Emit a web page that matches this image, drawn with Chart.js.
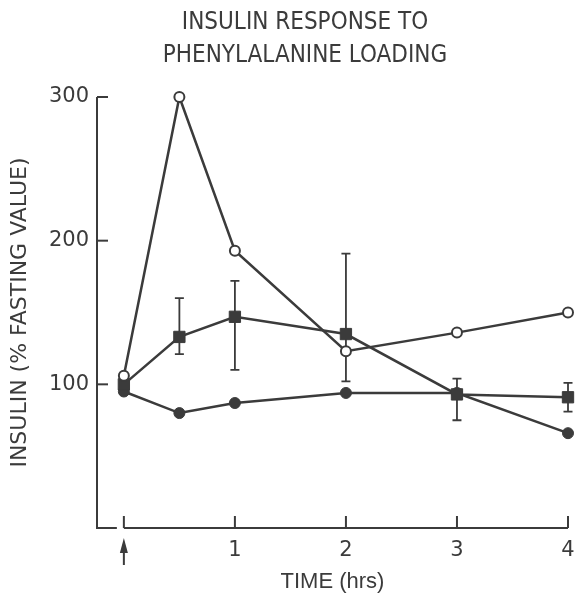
<!DOCTYPE html>
<html>
<head>
<meta charset="utf-8">
<script src="https://cdn.jsdelivr.net/npm/chart.js@4.4.0/dist/chart.umd.min.js"></script>
<style>
  html, body { margin: 0; padding: 0; background: #fff; }
  #wrap { width: 577px; height: 593px; }
</style>
</head>
<body>
<div id="wrap"><canvas id="chart"></canvas></div>
<script>
// values
const titleLines = ['INSULIN RESPONSE TO', 'PHENYLALANINE LOADING'];
const times = [0, 0.5, 1, 2, 3, 4];
const openCircle = [106, 300, 193, 123, 136, 150];
const squareMean = [100, 133, 147, 135, 93, 91];
const squareHigh = [null, 160, 172, 191, 104, 101];
const squareLow = [null, 121, 110, 102, 75, 81];
const filledCircle = [95, 80, 87, 94, 94, 66];
const xTicks = [0, 1, 2, 3, 4];
const yTicks = [100, 200, 300];

const ink = '#3b3b3b';

const toPoints = arr => times.map((t, i) => ({ x: t, y: arr[i] }));

// axes, tick marks, error bars, arrow and title
const figurePlugin = {
  id: 'figure',
  beforeDatasetsDraw(chart) {
    const { ctx, chartArea, scales: { x, y } } = chart;
    ctx.save();
    ctx.strokeStyle = ink;
    ctx.fillStyle = ink;
    ctx.lineWidth = 2;
    ctx.lineCap = 'butt';

    // y axis + left stub of x axis
    const x0 = x.getPixelForValue(0);
    ctx.beginPath();
    ctx.moveTo(chartArea.left, y.getPixelForValue(300));
    ctx.lineTo(chartArea.left, chartArea.bottom);
    ctx.lineTo(x0 - 7, chartArea.bottom);
    ctx.stroke();

    // x axis from 0 to 4
    ctx.beginPath();
    ctx.moveTo(x0, chartArea.bottom);
    ctx.lineTo(x.getPixelForValue(4), chartArea.bottom);
    ctx.stroke();

    // inward ticks
    xTicks.forEach(v => {
      const px = x.getPixelForValue(v);
      ctx.beginPath();
      ctx.moveTo(px, chartArea.bottom);
      ctx.lineTo(px, chartArea.bottom - 12);
      ctx.stroke();
    });
    yTicks.forEach(v => {
      const py = y.getPixelForValue(v);
      ctx.beginPath();
      ctx.moveTo(chartArea.left, py);
      ctx.lineTo(chartArea.left + 11, py);
      ctx.stroke();
    });

    // error bars
    ctx.lineWidth = 1.8;
    times.forEach((t, i) => {
      if (squareHigh[i] == null) return;
      const px = x.getPixelForValue(t);
      const hi = y.getPixelForValue(squareHigh[i]);
      const lo = y.getPixelForValue(squareLow[i]);
      ctx.beginPath();
      ctx.moveTo(px, hi); ctx.lineTo(px, lo);
      ctx.moveTo(px - 4.5, hi); ctx.lineTo(px + 4.5, hi);
      ctx.moveTo(px - 4.5, lo); ctx.lineTo(px + 4.5, lo);
      ctx.stroke();
    });

    // arrow under time 0
    ctx.lineWidth = 2;
    ctx.beginPath();
    ctx.moveTo(x0, chartArea.bottom + 20);
    ctx.lineTo(x0, chartArea.bottom + 37);
    ctx.stroke();
    ctx.beginPath();
    ctx.moveTo(x0, chartArea.bottom + 10);
    ctx.lineTo(x0 - 4, chartArea.bottom + 25);
    ctx.lineTo(x0 + 4, chartArea.bottom + 25);
    ctx.closePath();
    ctx.fill();

    // title
    ctx.font = '24px "DejaVu Sans Condensed", "Liberation Sans Narrow", "Liberation Sans", sans-serif';
    ctx.textAlign = 'center';
    ctx.textBaseline = 'middle';
    ctx.fillText(titleLines[0], 305, 23);
    ctx.fillText(titleLines[1], 305, 56);
    ctx.restore();
  }
};

new Chart(document.getElementById('chart'), {
  type: 'scatter',
  data: {
    datasets: [
      {
        label: 'open circles',
        data: toPoints(openCircle),
        showLine: true,
        clip: false,
        borderColor: ink,
        borderWidth: 2.5,
        pointStyle: 'circle',
        pointRadius: 5,
        pointBorderWidth: 2,
        pointBackgroundColor: '#fff',
        pointBorderColor: ink,
      },
      {
        label: 'squares',
        data: toPoints(squareMean),
        showLine: true,
        clip: false,
        borderColor: ink,
        borderWidth: 2.5,
        pointStyle: 'rect',
        pointRadius: 8,
        pointBorderWidth: 1,
        pointBackgroundColor: ink,
        pointBorderColor: ink,
      },
      {
        label: 'filled circles',
        data: toPoints(filledCircle),
        showLine: true,
        clip: false,
        borderColor: ink,
        borderWidth: 2.5,
        pointStyle: 'circle',
        pointRadius: 5.5,
        pointBorderWidth: 1,
        pointBackgroundColor: ink,
        pointBorderColor: ink,
      },
    ],
  },
  options: {
    responsive: true,
    maintainAspectRatio: false,
    animation: false,
    layout: { padding: { top: 97, right: 7, left: 0, bottom: 0 } },
    plugins: {
      legend: { display: false },
      tooltip: { enabled: false },
    },
    scales: {
      x: {
        type: 'linear',
        min: -0.242,
        max: 4,
        afterBuildTicks: scale => { scale.ticks = xTicks.map(v => ({ value: v })); },
        afterFit: scale => {
          scale.height = 65;
          scale.paddingLeft = 0;
          scale.paddingRight = 0;
        },
        grid: { display: false, drawTicks: false },
        border: { display: false },
        ticks: {
          padding: 10,
          color: ink,
          font: { family: '"DejaVu Sans", sans-serif', size: 21 },
          callback: v => (v === 0 ? '' : v),
        },
        title: {
          display: true,
          text: 'TIME (hrs)',
          color: ink,
          font: { family: '"Liberation Sans", sans-serif', size: 22, lineHeight: 1.0 },
          padding: { top: 0, bottom: 0 },
        },
      },
      y: {
        min: 0,
        max: 300,
        afterBuildTicks: scale => { scale.ticks = yTicks.map(v => ({ value: v })); },
        afterFit: scale => {
          scale.width = 97;
          scale.paddingTop = 0;
          scale.paddingBottom = 0;
        },
        grid: { display: false, drawTicks: false },
        border: { display: false },
        ticks: {
          padding: 8,
          color: ink,
          font: { family: '"DejaVu Sans", sans-serif', size: 21 },
        },
        title: {
          display: true,
          text: 'INSULIN (% FASTING VALUE)',
          color: ink,
          font: { family: '"DejaVu Sans", sans-serif', size: 22 },
          padding: { top: 7, bottom: 0 },
        },
      },
    },
  },
  plugins: [figurePlugin],
});
</script>
</body>
</html>
